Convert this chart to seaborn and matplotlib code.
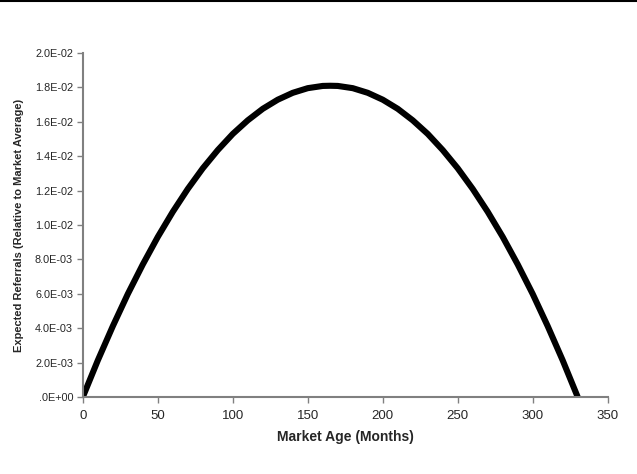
import matplotlib
matplotlib.use("Agg")
import matplotlib.pyplot as plt
import seaborn as sns
import pandas as pd
from matplotlib.ticker import FixedLocator, FixedFormatter

# Data
market_age = [0, 10, 20, 30, 40, 50, 60, 70, 80, 90, 100, 110, 120, 130, 140, 150,
              160, 165, 170, 180, 190, 200, 210, 220, 230, 240, 250, 260, 270, 280,
              290, 300, 310, 320, 330]
expected_referrals = [0.0, 0.00213, 0.00412, 0.00599, 0.00771, 0.00931, 0.01077, 0.01210,
                      0.01330, 0.01436, 0.01530, 0.01609, 0.01676, 0.01729, 0.01769,
                      0.01796, 0.01809, 0.01810, 0.01809, 0.01796, 0.01769, 0.01729,
                      0.01676, 0.01609, 0.01530, 0.01436, 0.01330, 0.01210, 0.01077,
                      0.00931, 0.00771, 0.00599, 0.00412, 0.00213, 0.0]
x_ticks = [0, 50, 100, 150, 200, 250, 300, 350]
y_ticks = [0.0, 0.002, 0.004, 0.006, 0.008, 0.010, 0.012, 0.014, 0.016, 0.018, 0.020]
y_tick_labels = [".0E+00", "2.0E-03", "4.0E-03", "6.0E-03", "8.0E-03", "1.0E-02",
                 "1.2E-02", "1.4E-02", "1.6E-02", "1.8E-02", "2.0E-02"]

df = pd.DataFrame({"age": market_age, "ref": expected_referrals})

sns.set_style("white")
plt.rcParams["font.family"] = ["Liberation Sans", "DejaVu Sans"]

fig = plt.figure(figsize=(6.37, 4.74), dpi=100)
ax = fig.add_axes([0.130, 0.1624, 0.824, 0.7256])

sns.lineplot(data=df, x="age", y="ref", ax=ax, color="black", linewidth=4.4)

ax.set_xlim(0, 350)
ax.set_ylim(0, 0.020)
ax.xaxis.set_major_locator(FixedLocator(x_ticks))
ax.yaxis.set_major_locator(FixedLocator(y_ticks))
ax.yaxis.set_major_formatter(FixedFormatter(y_tick_labels))
ax.tick_params(axis="x", labelsize=9.5, length=4, width=1, color="#808080",
               direction="out", bottom=True, pad=5)
ax.tick_params(axis="y", labelsize=7.8, length=4, width=1, color="#808080",
               direction="out", left=True, pad=3)

for s in ["top", "right"]:
    ax.spines[s].set_visible(False)
for s in ["left", "bottom"]:
    ax.spines[s].set_color("#808080")
    ax.spines[s].set_linewidth(1.5)

ax.set_xlabel("Market Age (Months)", fontsize=10, fontweight="bold", labelpad=6)
ax.set_ylabel("Expected Referrals (Relative to Market Average)", fontsize=8,
              fontweight="bold", labelpad=8)

# thin black rule at top of figure
fig.add_artist(plt.Line2D([0, 1], [0.998, 0.998], transform=fig.transFigure,
                          color="black", linewidth=1.5))

fig.savefig("out.png", dpi=100)
